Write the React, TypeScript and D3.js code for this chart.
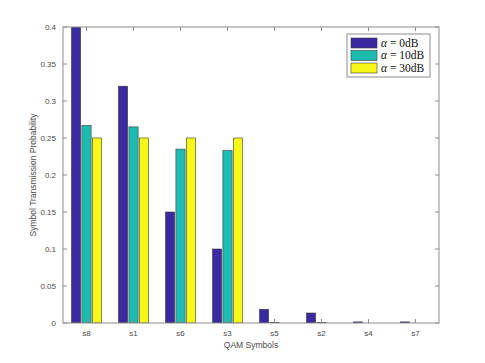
import React, { useEffect, useRef } from 'react';
import * as d3 from 'd3';

// QAM symbols, in the order they appear on the x axis
const symbols = ['s8', 's1', 's6', 's3', 's5', 's2', 's4', 's7'];
const seriesNames = ['0dB', '10dB', '30dB'];
const alpha0dB = [0.4, 0.32, 0.15, 0.1, 0.0185, 0.0135, 0.0015, 0.0015];
const alpha10dB = [0.267, 0.265, 0.235, 0.233, 0.0008, 0.0008, 0, 0];
const alpha30dB = [0.25, 0.25, 0.25, 0.25, 0, 0, 0, 0];
const yTicks = [0, 0.05, 0.1, 0.15, 0.2, 0.25, 0.3, 0.35, 0.4];
const colors = ['#3a2aa2', '#1cbdb0', '#f8f816'];

const App = () => {
  const svgRef = useRef<SVGSVGElement>(null);

  useEffect(() => {
    if (!svgRef.current) return;
    d3.select(svgRef.current).selectAll('*').remove();

    const width = 485;
    const height = 363;
    const margin = { left: 63, right: 46, top: 27, bottom: 40 };
    const innerW = width - margin.left - margin.right;
    const innerH = height - margin.top - margin.bottom;
    const axisColor = '#8c8c8c';
    const textColor = '#4a4a4a';
    const sans = 'Liberation Sans, Arial, sans-serif';

    const svg = d3.select(svgRef.current)
      .attr('width', width)
      .attr('height', height);

    const g = svg.append('g')
      .attr('transform', `translate(${margin.left},${margin.top})`);

    const x = d3.scaleBand().domain(symbols).range([0, innerW]);
    const y = d3.scaleLinear().domain([0, 0.4]).range([innerH, 0]);
    const groupW = x.bandwidth() * 0.64;
    const inner = d3.scaleBand().domain(seriesNames).range([-groupW / 2, groupW / 2]).paddingInner(0.12);

    const series = [alpha0dB, alpha10dB, alpha30dB];

    // clip so the tallest bar stays inside the axes
    svg.append('defs').append('clipPath').attr('id', 'plotClip')
      .append('rect').attr('width', innerW).attr('height', innerH);

    const bars = g.append('g').attr('clip-path', 'url(#plotClip)');
    series.forEach((vals, si) => {
      bars.selectAll(`.bar${si}`)
        .data(vals)
        .enter()
        .append('rect')
        .attr('x', (d, i) => (x(symbols[i]) as number) + x.bandwidth() / 2 + (inner(seriesNames[si]) as number))
        .attr('y', d => y(d))
        .attr('width', inner.bandwidth())
        .attr('height', d => innerH - y(d))
        .attr('fill', colors[si])
        .attr('stroke', '#3a3a3a')
        .attr('stroke-width', 0.6);
    });

    // box
    g.append('rect')
      .attr('width', innerW)
      .attr('height', innerH)
      .attr('fill', 'none')
      .attr('stroke', axisColor)
      .attr('stroke-width', 1);

    const tickLen = 4;
    // x ticks (bottom and top, pointing in)
    symbols.forEach(s => {
      const cx = (x(s) as number) + x.bandwidth() / 2;
      g.append('line').attr('x1', cx).attr('x2', cx).attr('y1', innerH).attr('y2', innerH - tickLen)
        .attr('stroke', axisColor);
      g.append('line').attr('x1', cx).attr('x2', cx).attr('y1', 0).attr('y2', tickLen)
        .attr('stroke', axisColor);
      g.append('text')
        .attr('x', cx)
        .attr('y', innerH + 13)
        .attr('text-anchor', 'middle')
        .attr('font-family', sans)
        .attr('font-size', 8)
        .attr('fill', textColor)
        .text(s);
    });

    // y ticks (left and right)
    yTicks.forEach(t => {
      const cy = y(t);
      g.append('line').attr('x1', 0).attr('x2', tickLen).attr('y1', cy).attr('y2', cy)
        .attr('stroke', axisColor);
      g.append('line').attr('x1', innerW).attr('x2', innerW - tickLen).attr('y1', cy).attr('y2', cy)
        .attr('stroke', axisColor);
      g.append('text')
        .attr('x', -7)
        .attr('y', cy)
        .attr('dy', '0.35em')
        .attr('text-anchor', 'end')
        .attr('font-family', sans)
        .attr('font-size', 8)
        .attr('fill', textColor)
        .text(String(t));
    });

    // axis labels
    g.append('text')
      .attr('x', innerW / 2)
      .attr('y', innerH + 25)
      .attr('text-anchor', 'middle')
      .attr('font-family', sans)
      .attr('font-size', 8.5)
      .attr('fill', textColor)
      .text('QAM Symbols');

    g.append('text')
      .attr('transform', `translate(-27,${innerH / 2}) rotate(-90)`)
      .attr('text-anchor', 'middle')
      .attr('font-family', sans)
      .attr('font-size', 8.5)
      .attr('fill', textColor)
      .text('Symbol Transmission Probability');

    // legend
    const legend = svg.append('g').attr('transform', 'translate(347,34)');
    legend.append('rect')
      .attr('width', 83)
      .attr('height', 43)
      .attr('fill', '#fff')
      .attr('stroke', axisColor)
      .attr('stroke-width', 1);

    seriesNames.forEach((name, i) => {
      const row = legend.append('g').attr('transform', `translate(4,${4 + i * 12.5})`);
      row.append('rect')
        .attr('width', 26)
        .attr('height', 10)
        .attr('fill', colors[i])
        .attr('stroke', '#3a3a3a')
        .attr('stroke-width', 0.6);
      const txt = row.append('text')
        .attr('x', 30)
        .attr('y', 8.8)
        .attr('font-family', 'Liberation Serif, Times New Roman, serif')
        .attr('font-size', 11.5)
        .attr('fill', '#111');
      txt.append('tspan').attr('font-style', 'italic').text('α');
      txt.append('tspan').text(` = ${name}`);
    });
  }, []);

  return (
    <div style={{ width: 485, height: 363, margin: -8 }}>
      <svg ref={svgRef}></svg>
    </div>
  );
};

export default App;
